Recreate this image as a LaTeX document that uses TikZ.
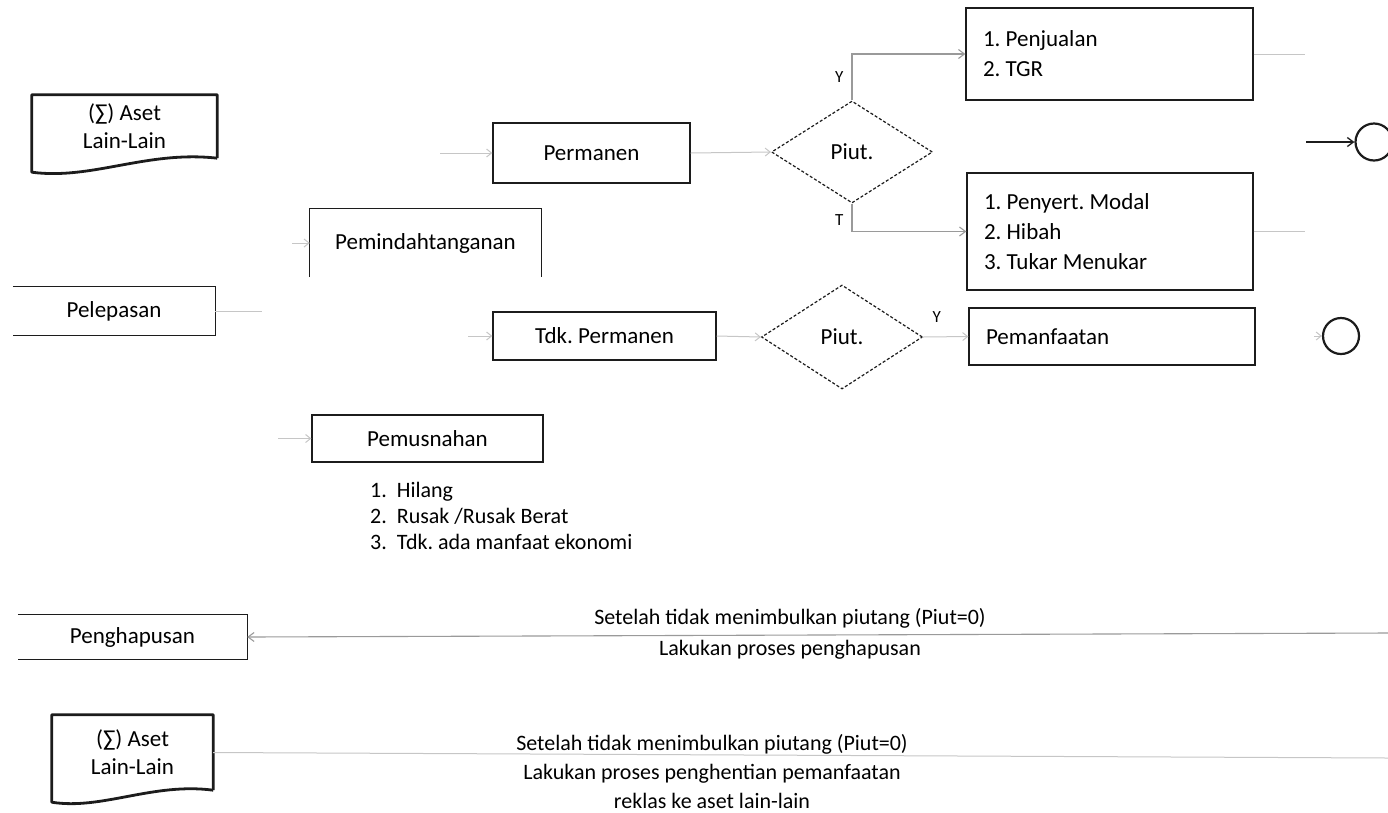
\documentclass[tikz,border=0pt]{standalone}
\usepackage{fontspec}
\setmainfont{Carlito}
\usepackage{tikz}
\usetikzlibrary{arrows.meta,calc,positioning,shapes.geometric}
\frenchspacing
\definecolor{inkblack}{HTML}{1C1C1C}
\definecolor{linegray}{HTML}{9A9A9A}
\definecolor{palegray}{HTML}{C6C6C6}
\tikzset{
  box/.style={rectangle,draw=inkblack,line width=1.3pt,minimum width=#1,minimum height=48pt,inner sep=0pt,
    align=flush center,font=\fontsize{23}{29}\selectfont},
  box/.default=200pt,
  listbox/.style={rectangle,draw=inkblack,line width=1.3pt,text width=#1,inner xsep=17pt,inner ysep=0pt,
    align=flush left,font=\fontsize{23}{30}\selectfont},
  listbox/.default=252pt,
  openbox/.style={rectangle,minimum width=#1,minimum height=48pt,inner sep=0pt,font=\fontsize{23}{29}\selectfont},
  openbox/.default=200pt,
  boxline/.style={draw=inkblack,line width=1.3pt},
  docbox/.style={rectangle,minimum height=63pt,inner sep=0pt,align=flush center,font=\fontsize{23}{28}\selectfont},
  docline/.style={draw=inkblack,line width=2.8pt,line join=round},
  decision/.style={diamond,draw=inkblack,line width=1.2pt,densely dashed,minimum width=161pt,minimum height=102pt,
    inner sep=0pt,font=\fontsize{23}{28}\selectfont},
  endpoint/.style={circle,draw=inkblack,line width=2.2pt,minimum size=37pt,inner sep=0pt},
  note/.style={align=flush center,inner sep=0pt,font=\fontsize{22}{29}\selectfont},
  tag/.style={inner sep=0pt,font=\fontsize{17}{20}\selectfont},
  arrow/.style={-{Straight Barb[length=6pt,width=9pt]},line width=1.3pt,draw=inkblack},
  grayarrow/.style={-{Straight Barb[length=6pt,width=9pt]},line width=1.1pt,draw=linegray},
  faintarrow/.style={-{Straight Barb[length=5pt,width=8pt]},line width=1pt,draw=palegray},
  faintline/.style={line width=1pt,draw=palegray}
}
\begin{document}
\begin{tikzpicture}[x=1pt,y=-1pt]
\useasboundingbox (0,0) rectangle (1388,812);
\node[docbox,minimum width=185pt] (asetTop) at (124.5,126.5) {(∑) Aset\\Lain-Lain};
\node[openbox=202pt] (pelepasan) at (114,311) {Pelepasan};
\node[openbox=231pt,minimum height=68pt] (pindah) at (425.5,243) {Pemindahtanganan};
\node[box=197pt,minimum height=60pt] (permanen) at (591.5,153) {Permanen};
\node[box=223pt] (tdkpermanen) at (604.5,336) {Tdk. Permanen};
\node[box=231pt,minimum height=47pt] (musnah) at (427.5,438.5) {Pemusnahan};
\node[anchor=north west,align=flush left,inner sep=0pt,font=\fontsize{22}{26}\selectfont] (sebab) at (370,482)
  {1.\ \ Hilang\\2.\ \ Rusak /Rusak Berat\\3.\ \ Tdk. ada manfaat ekonomi};
\node[decision] (piutA) at (852,152) {Piut.};
\node[decision,minimum height=104pt] (piutB) at (842,337) {Piut.};
\node[listbox=253pt,minimum height=92pt] (jual) at (1109.5,54) {1. Penjualan\\2. TGR};
\node[listbox,minimum height=117pt] (hibah) at (1110,231.5) {1. Penyert. Modal\\2. Hibah\\3. Tukar Menukar};
\node[listbox,minimum height=57pt] (manfaat) at (1112,336.5) {Pemanfaatan};
\node[endpoint] (endA) at (1374,142) {};
\node[endpoint,minimum size=36pt] (endB) at (1341,336) {};
\node[openbox=229pt,minimum height=44pt] (hapus) at (132.5,637) {Penghapusan};
\node[docbox,minimum width=161pt,minimum height=75pt] (asetBot) at (132.5,752.5) {(∑) Aset\\Lain-Lain};
\node[note] (hapusNote) at (790,634) {Setelah tidak menimbulkan piutang (Piut=0)\\[2pt]Lakukan proses penghapusan};
\node[note] (reklasNote) at (712,772) {Setelah tidak menimbulkan piutang (Piut=0)\\Lakukan proses penghentian pemanfaatan\\reklas ke aset lain-lain};
\draw[docline] (asetTop.south east) -- (asetTop.north east) -- (asetTop.north west) -- ($(asetTop.south west)+(0,14)$)
  .. controls ($(asetTop.south west)+(60,22)$) and ($(asetTop.south east)+(-70,-8)$) .. (asetTop.south east);
\draw[docline] (asetBot.south east) -- (asetBot.north east) -- (asetBot.north west) -- ($(asetBot.south west)+(0,12)$)
  .. controls ($(asetBot.south west)+(50,20)$) and ($(asetBot.south east)+(-60,-8)$) .. (asetBot.south east);
\draw[boxline] (pelepasan.north west) -- (pelepasan.north east) -- (pelepasan.south east) -- (pelepasan.south west);
\draw[boxline] (pindah.south west) -- (pindah.north west) -- (pindah.north east) -- (pindah.south east);
\draw[boxline] (hapus.north west) -- (hapus.north east) -- (hapus.south east) -- (hapus.south west);
\coordinate (pindahIn) at (292,243);
\coordinate (lepasOut) at (262,311);
\coordinate (permanenIn) at (440,153);
\coordinate (tdkIn) at (468,336);
\coordinate (musnahIn) at (278,438.5);
\coordinate (jualOut) at (1305,54);
\coordinate (hibahOut) at (1305,231.5);
\coordinate (endAIn) at (1306,142);
\coordinate (endBIn) at (1314,336);
\coordinate (hapusIn) at (1388,633);
\coordinate (asetBotOut) at (1388,758);
\draw[faintarrow] (pindahIn) -- (pindah.west);
\draw[faintline] (pelepasan.east) -- (lepasOut);
\draw[faintarrow] (permanenIn) -- (permanen.west);
\draw[faintarrow] (permanen.east) -- (piutA.west);
\draw[grayarrow] (piutA.north) |- (jual.west) node[tag,pos=0.25,left=8pt] {Y};
\draw[grayarrow] (piutA.south) |- (hibah.west) node[tag,pos=0.3,left=8pt] {T};
\draw[faintline] (jual.east) -- (jualOut);
\draw[faintline] (hibah.east) -- (hibahOut);
\draw[arrow] (endAIn) -- (endA);
\draw[faintarrow] (tdkIn) -- (tdkpermanen.west);
\draw[faintarrow] (tdkpermanen.east) -- (piutB.west);
\draw[faintarrow] (piutB.east) -- (manfaat.west) node[tag,pos=0.3,above=14pt] {Y};
\draw[faintarrow] (endBIn) -- (endB);
\draw[faintarrow] (musnahIn) -- (musnah.west);
\draw[grayarrow] (hapusIn) -- (hapus.east);
\draw[faintline] (asetBot.east) -- (asetBotOut);
\end{tikzpicture}
\end{document}
